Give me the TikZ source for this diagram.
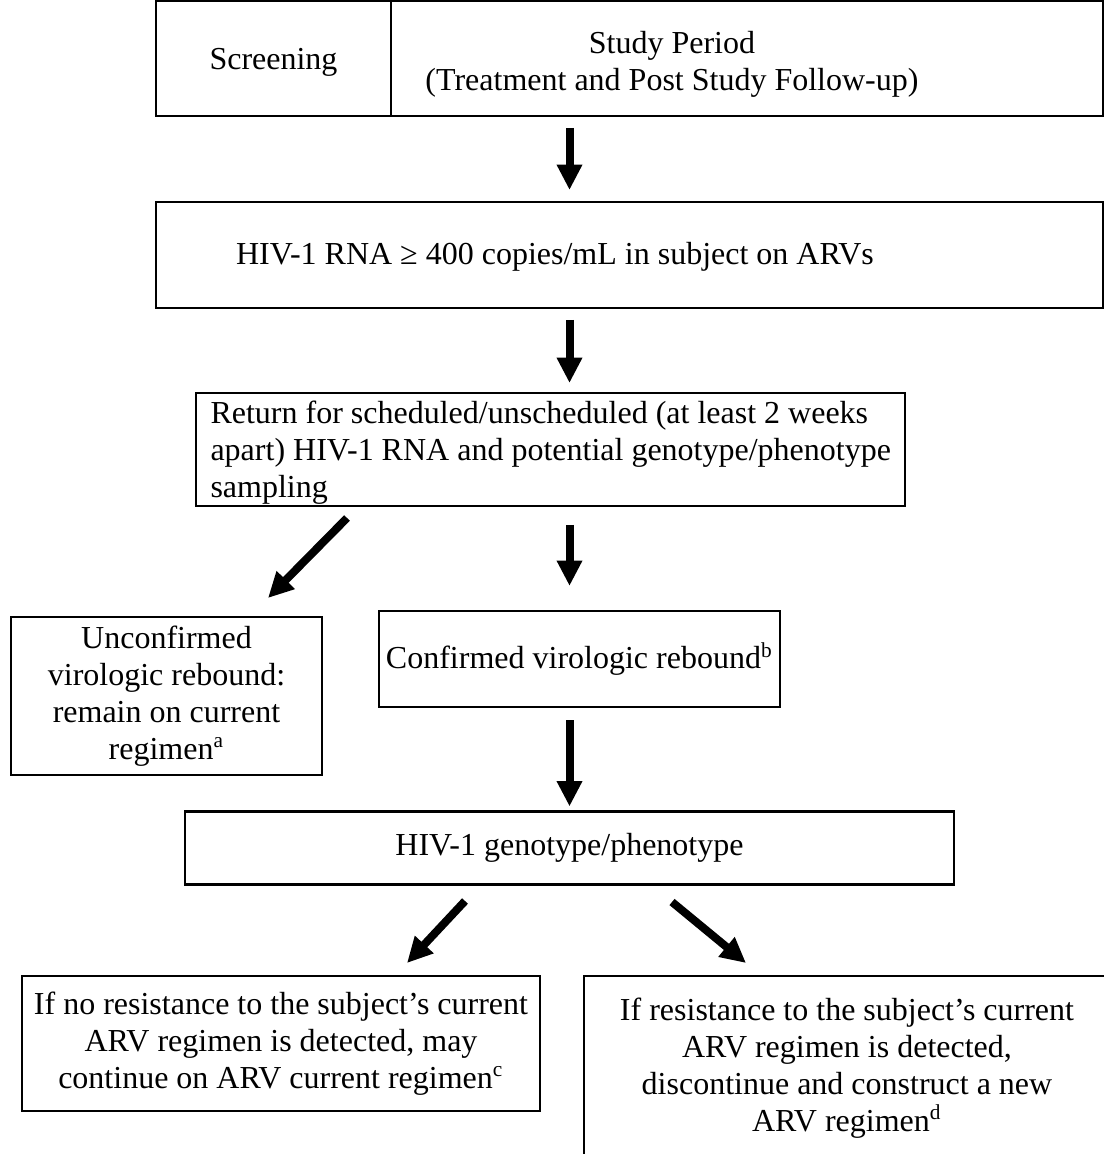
\documentclass[tikz,border=0pt]{standalone}
\usepackage{fontspec}
\setmainfont{Liberation Serif}
\usetikzlibrary{arrows.meta}
\tikzset{
  box/.style={draw, line width=0.8pt, inner sep=0pt, outer sep=0pt, align=center, font=\fontsize{12}{13.8}\selectfont},
  txt/.style={inner sep=0pt, align=center, font=\fontsize{12}{13.8}\selectfont},
  sz/.style 2 args={minimum width=#1*0.375pt, minimum height=#2*0.375pt},
  fat/.style={line width=3pt, -{Triangle[width=9pt,length=9.5pt]}},
}
\begin{document}
\begin{tikzpicture}[x=0.375pt, y=-0.375pt]
\useasboundingbox (0,0) rectangle (1104,1154);
\clip (0,0) rectangle (1104,1154);
\node[box, sz={235}{115}, text depth=0pt] (scr) at (273.5,58.5) {Screening};
\node[box, sz={712}{115}] (per) at (747,58.5) {};
\node[txt] (per-t) at (672,64) {Study Period\\(Treatment and Post Study Follow-up)};
\node[box, sz={947}{106}] (rna) at (629.5,255) {};
\node[txt] (rna-t) at (555,257) {HIV-1 RNA ≥ 400 copies/mL in subject on ARVs};
\node[box, sz={709}{113}] (ret) at (550.5,449.5) {};
\node[txt, align=left, anchor=west] (ret-t) at (210,452.5) {Return for scheduled/unscheduled (at least 2 weeks\\apart) HIV-1 RNA and potential genotype/phenotype\\sampling};
\node[box, sz={311}{158}] (unc) at (166.5,696) {Unconfirmed\\virologic rebound:\\remain on current\\regimen\textsuperscript{a}};
\node[box, sz={401}{96}] (con) at (579.5,659) {Confirmed virologic rebound\textsuperscript{b}};
\node[box, sz={769}{73}] (gen) at (569.5,848) {HIV-1 genotype/phenotype};
\node[box, sz={518}{135}] (nores) at (281,1043.5) {If no resistance to the subject’s current\\ARV regimen is detected, may\\continue on ARV current regimen\textsuperscript{c}};
\node[box, sz={526}{184}] (res) at (847,1068) {If resistance to the subject’s current\\ARV regimen is detected,\\discontinue and construct a new\\ARV regimen\textsuperscript{d}};
\coordinate (d1) at (347,518);
\coordinate (d1e) at (268,598);
\coordinate (d2) at (465,901);
\coordinate (d2e) at (407,963);
\coordinate (d3) at (672,902);
\coordinate (d3e) at (746,963);
\draw[fat, shorten <=4.5pt, shorten >=4.5pt] (per.south -| gen.north) -- (rna.north -| gen.north);
\draw[fat, shorten <=4.5pt, shorten >=3.75pt] (rna.south -| gen.north) -- (ret.north -| gen.north);
\draw[fat] (d1) -- (d1e);
\draw[fat, shorten <=7.1pt, shorten >=9.4pt] (ret.south -| gen.north) -- (con.north -| gen.north);
\draw[fat, shorten <=4.9pt, shorten >=1.9pt] (con.south -| gen.north) -- (gen.north);
\draw[fat] (d2) -- (d2e);
\draw[fat] (d3) -- (d3e);
\end{tikzpicture}
\end{document}
